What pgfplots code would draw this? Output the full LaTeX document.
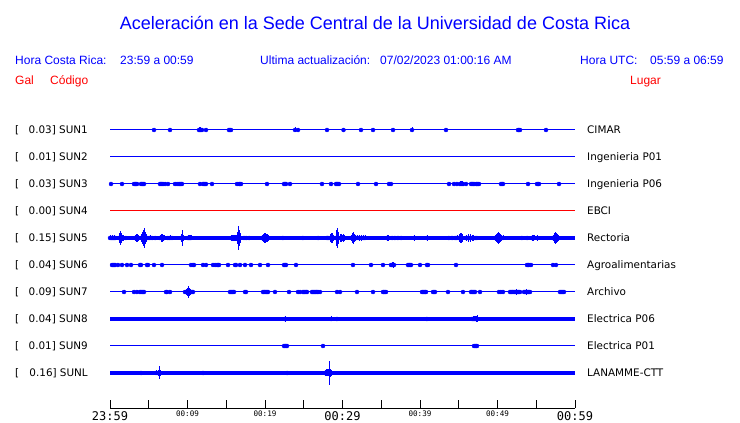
\documentclass[border=0pt]{standalone}
\usepackage{pgfplots}
\pgfplotsset{compat=1.18}
\usepackage{pgfplotstable}
\usepackage{fontspec}
\setmainfont{Liberation Sans}
\newfontfamily\dvs{DejaVu Sans}
\newfontfamily\dvsm{DejaVu Sans Mono}
\newcommand\bt{\dvsm\fontsize{12bp}{12bp}\selectfont}
\newcommand\st{\dvsm\fontsize{7.6bp}{8bp}\selectfont}
\newcommand\lf{\dvs\fontsize{10.4bp}{12bp}\selectfont}
\newcommand\hf{\fontsize{12bp}{14bp}\selectfont}

% spikes: t = minutes after 23:59, a = half height (px)
\pgfplotstableread{
t a
5.68 1
7.74 1.5
11.48 2.5
11.61 2.5
11.74 2
11.87 1.5
12.39 1.5
15.35 1
15.48 1
15.61 1
23.87 2.5
24.26 1.5
28.00 1
30.13 1.5
32.39 1
33.94 1.5
36.52 1.5
38.97 2.5
43.35 1.5
52.65 1.5
52.77 1.5
52.90 1.5
56.26 1.5
}\sunA

\pgfplotstableread{
t a
0.13 1
1.55 1.5
3.10 1.5
3.23 1.5
3.35 1.5
3.48 1.5
4.00 1.5
4.13 1.5
4.26 1.5
4.39 1.5
6.45 1.5
6.58 1.5
6.71 1.5
6.84 1.5
7.10 1.5
7.48 1
8.39 1
8.65 1
8.90 1.5
9.03 1.5
9.16 1.5
9.29 1.5
11.61 1.5
12.00 1.5
12.13 1.5
12.26 1.5
12.39 1.5
13.16 1
16.39 1
16.65 1.5
16.77 1.5
16.90 1.5
20.26 1.5
22.45 1.5
22.58 1.5
22.71 1.5
23.23 1.5
27.35 1.5
28.52 2
29.16 1.5
29.29 1.5
29.42 1.5
29.55 1.5
32.00 1
34.32 1.5
36.00 1
36.26 1
43.74 1.5
44.39 1
44.77 1
45.16 2.5
45.29 2.5
45.42 2.5
45.55 2
45.94 1
46.58 1.5
46.71 1.5
46.84 1.5
46.97 1.5
47.23 1.5
47.35 1.5
47.48 1.5
47.61 1.5
50.45 1.5
50.58 1.5
50.71 1.5
53.94 1.5
55.10 1.5
55.23 1.5
55.35 1.5
57.94 1.5
}\sunC

\pgfplotstableread{
t a
0.00 2.5
0.13 2
0.26 2.5
0.39 2
0.52 2.5
0.65 2
1.16 5
1.29 7
1.42 5
1.55 3
1.68 3
2.06 2
3.23 3
3.35 4
3.48 4
3.61 3
4.00 4
4.13 6
4.26 8
4.39 10
4.52 6
4.65 4
4.90 2
5.16 2.5
5.42 2
5.81 2
6.45 2.5
6.58 4
6.71 4
6.84 3
6.97 2.5
7.48 2
7.74 2.5
8.00 2
9.16 4
9.29 8
9.42 3
10.06 2.5
10.19 2.5
10.32 2.5
10.45 2.5
15.61 3
15.74 3
15.87 3
16.00 3
16.13 3
16.26 3
16.39 6
16.52 12
16.65 8
16.77 5
17.29 2
17.55 2
17.94 2
19.61 3
19.74 4
19.87 5
20.00 5
20.13 4
20.26 4
20.39 3
22.32 2
24.90 2
26.84 2
28.00 2
28.13 2
28.39 4
28.52 5
28.65 5
28.77 3
29.16 8
29.29 10
29.42 6
29.68 4
29.81 4
29.94 3
30.06 4
30.19 3
31.10 3
31.23 5
31.35 6
31.48 4
31.61 3
31.87 2.5
32.13 3
32.39 3
32.65 2.5
32.90 2.5
35.74 3
35.87 3
36.39 2
36.77 2
37.16 2
37.55 2
39.23 3
40.90 3
43.74 2
44.13 2
44.52 2
44.77 2.5
45.03 4
45.16 5
45.29 5
45.42 4
45.94 3
46.19 4
46.45 4
46.71 3
46.84 3
47.10 2
47.35 2
49.68 3
49.81 4
49.94 5
50.06 6
50.19 5
50.32 4
50.45 3
50.71 2.5
53.16 2
53.81 2
54.45 3
54.58 3
54.71 2.5
55.10 3
57.16 3
57.29 5
57.42 6
57.55 5
57.68 4
57.81 3
}\sunE

\pgfplotstableread{
t a
0.26 1.5
0.39 1.5
0.52 1.5
0.65 1.5
1.03 1
1.55 1.5
2.19 1.5
2.71 1.5
3.87 1.5
4.00 1.5
4.77 1.5
4.90 1.5
5.68 1
6.71 1.5
10.45 1.5
10.71 1.5
10.84 1.5
12.00 1.5
12.39 2
13.29 1
13.55 1
13.81 1.5
13.94 1.5
14.06 1.5
15.23 1
16.13 1.5
16.26 1.5
16.77 1.5
17.42 1.5
18.19 1.5
19.35 1.5
20.39 1
22.45 2
22.58 2
22.71 2
24.00 1.5
31.35 1.5
33.68 1.5
35.23 1.5
36.26 2
36.39 2.5
36.52 3
36.65 2
38.45 1.5
38.58 1.5
38.71 1.5
38.84 1.5
40.00 1.5
40.90 1.5
41.03 1.5
44.65 1
53.81 1.5
53.94 1.5
54.06 1.5
54.32 1
57.16 1.5
57.55 1.5
}\sunF

\pgfplotstableread{
t a
1.81 1.5
3.10 1
3.48 1.5
3.87 1.5
4.00 1.5
4.13 1.5
4.26 1.5
4.39 1.5
7.23 2
7.35 2
7.74 1.5
9.68 2
9.81 3
9.94 4
10.06 6
10.19 4
10.32 3
10.45 2
10.58 1.5
10.71 1.5
15.48 2
15.61 2
15.74 2
15.87 2
16.00 2
17.42 1.5
17.55 1.5
19.74 2
19.87 2
20.00 2
20.13 2
20.26 2
20.39 2
21.29 1
23.10 1.5
24.26 1
24.52 1
24.90 2
25.03 2
25.16 2
25.29 2
25.42 2
26.06 2
26.19 2
26.32 2
26.45 2
26.58 2
26.71 2
26.84 2
27.10 1.5
29.29 1.5
29.68 1.5
31.87 1.5
33.94 1.5
35.23 2
35.35 2
35.48 2
35.61 2
40.26 1.5
40.39 1.5
40.52 1.5
40.65 1.5
40.77 1.5
41.68 1.5
41.81 1.5
41.94 1.5
43.61 1
45.55 1.5
46.58 1.5
46.71 1.5
46.84 1.5
46.97 1.5
47.10 1.5
47.74 1.5
50.19 1.5
50.45 1.5
50.71 1.5
51.61 2
51.74 2
51.87 2
52.00 2
52.13 2
52.26 2
52.39 3
52.52 2
52.65 2
52.77 2
52.90 1.5
53.42 2
53.55 2
53.68 3
53.81 2
53.94 2
54.06 2
54.19 1.5
58.06 1.5
58.19 1.5
58.32 1.5
58.45 1.5
58.58 1.5
}\sunG

\pgfplotstableread{
t a
22.58 3
28.52 2.5
29.29 2
40.90 2
46.71 2
46.84 2.5
46.97 2.5
47.10 2.5
47.23 3
47.35 3.5
}\sunH

\pgfplotstableread{
t a
22.45 1.5
22.58 1.5
22.71 1.5
22.84 1.5
27.48 1.5
46.97 1.5
47.10 1.5
47.23 1.5
47.35 1.5
}\sunI

\pgfplotstableread{
t a
4.00 2
5.94 2.5
6.19 3
6.32 6.5
6.45 3
12.00 2
22.84 2
27.74 3
27.87 3.5
28.00 3.5
28.13 3.5
28.26 12
28.39 4
28.52 3
}\sunL

\pgfplotsset{
  spikes/.style={only marks, mark=none, blue,
    error bars/.cd, y dir=both, y explicit, error mark=none,
    error bar style={line width=0.85bp, blue}},
}

\begin{document}
\begin{tikzpicture}
\path[use as bounding box] (0bp,0bp) rectangle (740bp,423bp);
\node[anchor=base, inner sep=0pt, text=blue, font=\fontsize{18bp}{20bp}\selectfont] at (375bp,393bp) {Aceleración en la Sede Central de la Universidad de Costa Rica};
\begin{scope}[every node/.style={anchor=base west, inner sep=0pt, font=\hf}]
\node[text=blue] at (15bp,358bp) {Hora Costa Rica:};
\node[text=blue] at (120bp,358bp) {23:59 a 00:59};
\node[text=blue] at (260bp,358bp) {Ultima actualización:};
\node[text=blue] at (380bp,358bp) {07/02/2023 01:00:16 AM};
\node[text=blue] at (580bp,358bp) {Hora UTC:};
\node[text=blue] at (650bp,358bp) {05:59 a 06:59};
\node[text=red] at (15bp,338bp) {Gal};
\node[text=red] at (50bp,338bp) {Código};
\node[text=red] at (630bp,338bp) {Lugar};
\end{scope}

\begin{axis}[at={(110bp,15bp)}, anchor=south west, scale only axis,
  width=465bp, height=292bp, xmin=0, xmax=60, ymin=-408, ymax=-116,
  axis x line=bottom, axis y line=none, ytick=\empty,
  axis line style={-, line width=1bp, black},
  xtick={0,5,...,60},
  xticklabels={{\bt 23:59},{},{\st 00:09},{},{\st 00:19},{},{\bt 00:29},{},{\st 00:39},{},{\st 00:49},{},{\bt 00:59}},
  tick align=inside, major tick length=7.5bp,
  every tick/.style={line width=1bp, black},
  xticklabel style={anchor=north, inner sep=0pt, yshift=-3bp},
  clip=false]
% baselines
\addplot[blue, line width=1bp] coordinates {(0,-130) (60,-130)};
\addplot[blue, line width=1bp] coordinates {(0,-157) (60,-157)};
\addplot[blue, line width=1bp] coordinates {(0,-184) (60,-184)};
\addplot[red, line width=1bp] coordinates {(0,-211) (60,-211)};
\addplot[blue, line width=3.4bp] coordinates {(0,-238) (60,-238)};
\addplot[blue, line width=1bp] coordinates {(0,-265) (60,-265)};
\addplot[blue, line width=1bp] coordinates {(0,-292) (60,-292)};
\addplot[blue, line width=3.3bp] coordinates {(0,-319) (60,-319)};
\addplot[blue, line width=1bp] coordinates {(0,-346) (60,-346)};
\addplot[blue, line width=3.3bp] coordinates {(0,-373) (60,-373)};
% spikes
\addplot[spikes] table[x=t, y expr=-130, y error=a] {\sunA};
\addplot[spikes] table[x=t, y expr=-184, y error=a] {\sunC};
\addplot[spikes] table[x=t, y expr=-238, y error=a] {\sunE};
\addplot[spikes] table[x=t, y expr=-265, y error=a] {\sunF};
\addplot[spikes] table[x=t, y expr=-292, y error=a] {\sunG};
\addplot[spikes] table[x=t, y expr=-319, y error=a] {\sunH};
\addplot[spikes] table[x=t, y expr=-346, y error=a] {\sunI};
\addplot[spikes] table[x=t, y expr=-373, y error=a] {\sunL};
\end{axis}

\foreach \v/\c/\n [count=\k from 0] in {0.03/SUN1/CIMAR, 0.01/SUN2/Ingenieria P01, 0.03/SUN3/Ingenieria P06, 0.00/SUN4/EBCI, 0.15/SUN5/Rectoria, 0.04/SUN6/Agroalimentarias, 0.09/SUN7/Archivo, 0.04/SUN8/Electrica P06, 0.01/SUN9/Electrica P01, 0.16/SUNL/LANAMME-CTT}{
  \pgfmathsetmacro\yy{289-27*\k}
  \node[anchor=base west, inner sep=0pt, font=\lf] at (15bp,\yy bp) {[};
  \node[anchor=base east, inner sep=0pt, font=\lf] at (88bp,\yy bp) {\v] \c};
  \node[anchor=base west, inner sep=0pt, font=\lf] at (587bp,\yy bp) {\n};
}
\end{tikzpicture}
\end{document}
